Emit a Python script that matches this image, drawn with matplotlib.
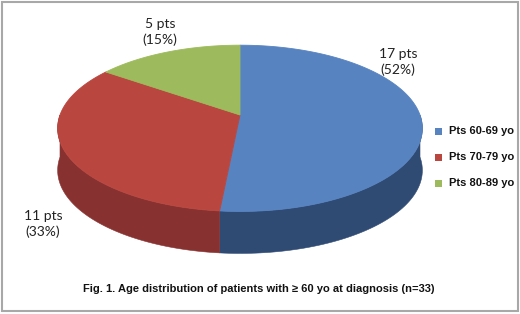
import numpy as np
import matplotlib.pyplot as plt
from matplotlib.patches import Polygon, Rectangle

# data
groups = ["Pts 60-69 yo", "Pts 70-79 yo", "Pts 80-89 yo"]
counts = [17, 11, 5]
pcts = [52, 33, 15]
top_colors = ["#5783c1", "#b9463f", "#9dbb5c"]
side_colors = ["#2f4b74", "#873230", "#6f8a3c"]

W, H = 520, 314
fig = plt.figure(figsize=(W / 100, H / 100), dpi=100)
ax = fig.add_axes([0, 0, 1, 1])
ax.set_xlim(0, W)
ax.set_ylim(H, 0)
ax.axis("off")

# pie geometry (pixels), with a little perspective like the excel 3d pie
cx, cy = 240, 115
A, B = 180, 81
k = 0.16
depth = 42

def pt(t):
    w = 1 + k * np.sin(t)
    return cx + A * np.cos(t) / w, cy - B * np.sin(t) / w

# angles from the data: start at 12 o'clock, go clockwise
fr = np.array(counts) / sum(counts)
starts = np.pi / 2 - 2 * np.pi * np.concatenate([[0], np.cumsum(fr)[:-1]])
ends = starts - 2 * np.pi * fr

# sides (front half only)
for s, e, col in zip(starts, ends, side_colors):
    lo, hi = e, s
    for j in range(-2, 2):
        flo, fhi = -np.pi + 2 * np.pi * j, 2 * np.pi * j
        l2, h2 = max(lo, flo), min(hi, fhi)
        if h2 > l2:
            t = np.linspace(l2, h2, 80)
            x, y = pt(t)
            xs = np.concatenate([x, x[::-1]])
            ys = np.concatenate([y, y[::-1] + depth])
            ax.add_patch(Polygon(np.column_stack([xs, ys]), closed=True,
                                 facecolor=col, edgecolor=col, linewidth=0.4))

# top faces
for s, e, col in zip(starts, ends, top_colors):
    t = np.linspace(s, e, 120)
    x, y = pt(t)
    verts = np.column_stack([np.concatenate([[cx], x]), np.concatenate([[cy], y])])
    ax.add_patch(Polygon(verts, closed=True, facecolor=col,
                         edgecolor=col, linewidth=0.6))

# data labels
lab_font = dict(family="Lato", fontsize=10, color="#222222", ha="center",
                va="center", linespacing=1.25)
label_pos = [(398, 62), (43, 224), (160, 32)]
for (lx, ly), n, p in zip(label_pos, counts, pcts):
    ax.text(lx, ly, f"{n} pts\n({p}%)", **lab_font)

# legend
for i, (g, col) in enumerate(zip(groups, top_colors)):
    yy = 131 + 26 * i
    ax.add_patch(Rectangle((435, yy - 3.5), 7, 7, facecolor=col, edgecolor="none"))
    ax.text(449, yy, g, family="Liberation Sans", fontweight="bold", fontsize=8,
            ha="left", va="center", color="#111111")

# caption
ax.text(259, 289, "Fig. 1. Age distribution of patients with \u2265 60 yo at diagnosis (n=33)",
        family="Liberation Sans", fontweight="bold", fontsize=8, ha="center",
        va="center", color="#111111")

# frame
ax.add_patch(Rectangle((2, 2), W - 4, H - 5, facecolor="none",
                       edgecolor="#a8a8a8", linewidth=1.5))

fig.savefig("out.png", dpi=100)
